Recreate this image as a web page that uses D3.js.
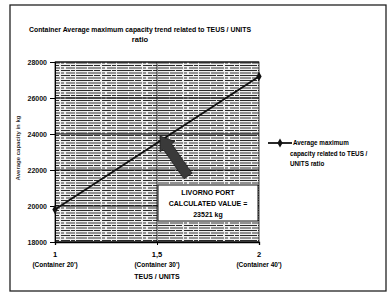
<!DOCTYPE html>
<html><head><meta charset="utf-8">
<script src="https://cdn.jsdelivr.net/npm/d3@7"></script>
<style>html,body{margin:0;padding:0;background:#fff;}svg{display:block;font-family:"Liberation Sans",Arial,sans-serif;}</style>
</head><body>
<svg id="c" width="392" height="294"></svg>
<script>
const ratios = [1, 2];
const capacity = [19800, 27200];
const yTicks = [18000, 20000, 22000, 24000, 26000, 28000];
const xTicks = [1, 1.5, 2];
const xTickLabels = ["1", "1,5", "2"];
const xTickSub = ["(Container 20')", "(Container 30')", "(Container 40')"];
const title = ["Container Average maximum capacity trend related to TEUS / UNITS", "ratio"];
const legendLines = ["Average maximum", "capacity related to TEUS /", "UNITS ratio"];
const boxLines = ["LIVORNO PORT", "CALCULATED VALUE =", "23521 kg"];

const svg = d3.select("#c");
const defs = svg.append("defs");
const pat = defs.append("pattern").attr("id","hatch").attr("patternUnits","userSpaceOnUse")
  .attr("width",41).attr("height",5);
pat.append("rect").attr("width",41).attr("height",5).attr("fill","#f0f0f0");
pat.append("line").attr("x1",0).attr("x2",41).attr("y1",0.5).attr("y2",0.5)
  .attr("stroke","#2a2a2a").attr("stroke-width",1).attr("stroke-dasharray","11,1,6,2,9,1,4,1,6,0");
pat.append("line").attr("x1",0).attr("x2",41).attr("y1",3).attr("y2",3)
  .attr("stroke","#333").attr("stroke-width",1).attr("stroke-dasharray","5,1,13,1,3,2,9,1,7,0");

// outer border
svg.append("rect").attr("x",10).attr("y",5).attr("width",376).attr("height",286)
  .attr("fill","none").attr("stroke","#222").attr("stroke-width",1.3);

const x = d3.scaleLinear().domain([1,2]).range([55,259]);
const y = d3.scaleLinear().domain([18000,28000]).range([242,62]);

// plot area
svg.append("rect").attr("x",x(1)).attr("y",y(28000)).attr("width",x(2)-x(1)).attr("height",y(18000)-y(28000))
  .attr("fill","url(#hatch)").attr("stroke","#111").attr("stroke-width",0.8);

// gridlines
svg.append("g").selectAll("line").data(yTicks).join("line")
  .attr("x1",x(1)).attr("x2",x(2)).attr("y1",d=>y(d)).attr("y2",d=>y(d))
  .attr("stroke","#000").attr("stroke-width",1);
svg.append("line").attr("x1",x(1.5)).attr("x2",x(1.5)).attr("y1",y(28000)).attr("y2",y(18000))
  .attr("stroke","#000").attr("stroke-width",0.8);

// axes
const yAxis = svg.append("g").attr("transform",`translate(${x(1)},0)`)
  .call(d3.axisLeft(y).tickValues(yTicks).tickFormat(d3.format("d")).tickSize(5).tickPadding(3));
yAxis.selectAll("text").attr("font-size",7).attr("font-weight","bold").attr("fill","#111");
yAxis.select(".domain").attr("stroke","#000");
const xAxis = svg.append("g").attr("transform",`translate(0,${y(18000)})`)
  .call(d3.axisBottom(x).tickValues(xTicks).tickFormat("").tickSize(3));
xAxis.select(".domain").attr("stroke","#000").attr("stroke-width",1.3);

const xl = svg.append("g").selectAll("g").data(xTicks).join("g");
xl.append("text").attr("x",d=>x(d)).attr("y",257).attr("text-anchor","middle")
  .attr("font-size",7.5).attr("font-weight","bold").text((d,i)=>xTickLabels[i]);
xl.append("text").attr("x",d=>x(d)).attr("y",267).attr("text-anchor","middle")
  .attr("font-size",6.5).attr("font-weight","bold").text((d,i)=>xTickSub[i]);

svg.append("text").attr("x",x(1.5)).attr("y",279).attr("text-anchor","middle")
  .attr("font-size",7).attr("font-weight","bold").text("TEUS / UNITS");

svg.append("text").attr("transform","translate(20,148) rotate(-90)").attr("text-anchor","middle")
  .attr("font-size",6).attr("font-weight","bold").attr("fill","#333").text("Average capacity in kg");

// title
svg.append("text").attr("x",140).attr("y",32).attr("text-anchor","middle")
  .attr("font-size",7.5).attr("font-weight","bold").attr("textLength",222).attr("lengthAdjust","spacingAndGlyphs").text(title[0]);
svg.append("text").attr("x",140).attr("y",42).attr("text-anchor","middle")
  .attr("font-size",7.5).attr("font-weight","bold").text(title[1]);

// line
const pts = ratios.map((r,i)=>[r,capacity[i]]);
svg.append("path").datum(pts).attr("fill","none").attr("stroke","#111").attr("stroke-width",1.8)
  .attr("d",d3.line().x(d=>x(d[0])).y(d=>y(d[1])));
const sym = d3.symbol().type(d3.symbolDiamond).size(24);
svg.append("g").selectAll("path").data(pts).join("path")
  .attr("transform",d=>`translate(${x(d[0])},${y(d[1])})`).attr("d",sym).attr("fill","#111");

// arrow (block arrow pointing up-left)
const ax0 = 188, ay0 = 176, ax1 = 160, ay1 = 136;
const ang = Math.atan2(ay1-ay0, ax1-ax0);
const len = Math.hypot(ax1-ax0, ay1-ay0);
const g = svg.append("g").attr("transform",`translate(${ax0},${ay0}) rotate(${ang*180/Math.PI})`);
g.append("path").attr("d",`M0,-5 L${len-13},-5 L${len-13},-9 L${len},0 L${len-13},9 L${len-13},5 L0,5 Z`)
  .attr("fill","#3a3a3a").attr("stroke","#111").attr("stroke-width",0.6);

// text box
svg.append("rect").attr("x",158).attr("y",185).attr("width",100).attr("height",36)
  .attr("fill","#fff").attr("stroke","#111").attr("stroke-width",1);
svg.append("g").selectAll("text").data(boxLines).join("text")
  .attr("x",208).attr("y",(d,i)=>195+i*11).attr("text-anchor","middle")
  .attr("font-size",7).attr("font-weight","bold").text(d=>d);

// legend
svg.append("line").attr("x1",268).attr("x2",292).attr("y1",143).attr("y2",143)
  .attr("stroke","#111").attr("stroke-width",1.8);
svg.append("path").attr("transform","translate(280,143)").attr("d",sym).attr("fill","#111");
svg.append("g").selectAll("text").data(legendLines).join("text")
  .attr("x",(d,i)=>i===0?293:290).attr("y",(d,i)=>145+i*10.5)
  .attr("font-size",6.3).attr("font-weight","bold").text(d=>d);
</script>
</body></html>
